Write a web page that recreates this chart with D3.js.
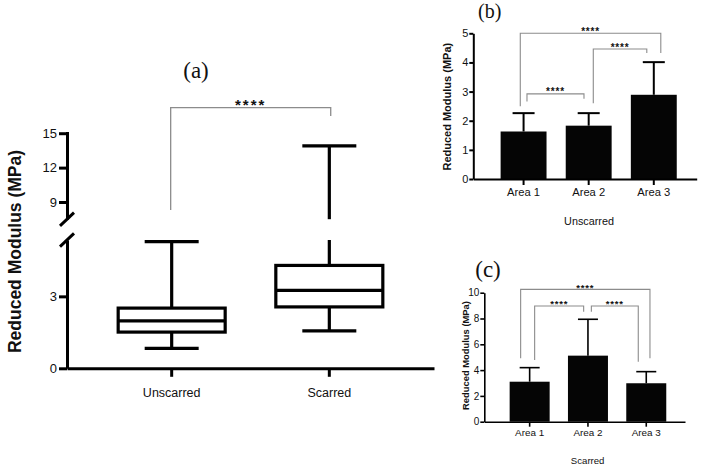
<!DOCTYPE html>
<html>
<head>
<meta charset="utf-8">
<script src="https://cdn.jsdelivr.net/npm/d3@7/dist/d3.min.js"></script>
<style>
  html, body { margin: 0; padding: 0; background: #fff; }
  svg { display: block; }
  text { font-family: "Liberation Sans", Arial, sans-serif; fill: #111; }
  .serif { font-family: "Liberation Serif", "Times New Roman", serif; }
</style>
</head>
<body>
<svg id="chart" width="711" height="472"></svg>
<script>
// ---------------- DATA ----------------
// Panel (a): box plot
const categoriesA = ["Unscarred", "Scarred"];
const minA = [0.83, 1.56];
const q1A = [1.51, 2.56];
const medA = [1.98, 3.25];
const q3A = [2.51, 4.29];
const maxA = [5.28, 13.9];
const lowTicksA = [0, 3];
const highTicksA = [9, 12, 15];

// Panel (b): Unscarred areas
const areas = ["Area 1", "Area 2", "Area 3"];
const meanB = [1.63, 1.83, 2.89];
const sdB = [0.63, 0.43, 1.12];
const ticksB = [0, 1, 2, 3, 4, 5];

// Panel (c): Scarred areas
const meanC = [3.10, 5.12, 2.98];
const sdC = [1.09, 2.82, 0.90];
const ticksC = [0, 2, 4, 6, 8, 10];

// significance comparisons [from, to, label]
const compA = [[0, 1, "****"]];
const compB = [[0, 1, "****"], [1, 2, "****"], [0, 2, "****"]];
const compC = [[0, 1, "****"], [1, 2, "****"], [0, 2, "****"]];

// ---------------- LAYOUT (annotation geometry in data units) -------------
// bracket: [lineValue, leftLegEnd, rightLegEnd, leftDx, rightDx]
const bracketA = [[17.24, 8.3, 16.5, -1, 1.4]];
const bracketB = [[2.92, 2.66, 2.75, 3.4, -4.7], [4.46, 2.60, 4.32, 4.6, -7], [5.0, 2.5, 4.32, -3.3, 7]];
const bracketC = [[8.97, 4.78, 8.53, 5, -4.3], [8.97, 8.53, 4.65, 3.4, -8], [10.26, 4.91, 4.91, -9, 3.7]];

const svg = d3.select("#chart");
const gray = "#8c8c8c";
const fmt = d3.format("d");

// ================= PANEL (a) =================
{
  const g = svg.append("g");
  const x = d3.scaleBand().domain(categoriesA).range([67, 434]).paddingInner(0).paddingOuter(0.164);
  const yLow = d3.scaleLinear().domain([0, 5.35]).range([368.3, 240]);
  const yHigh = d3.scaleLinear().domain([7.5, 15.15]).range([219.2, 131.5]);
  const cx = d => x(d) + x.bandwidth() / 2;

  // y axes (two segments)
  const axLow = g.append("g").attr("transform", "translate(67,0)")
    .call(d3.axisLeft(yLow).tickValues(lowTicksA).tickFormat(fmt).tickSize(8).tickSizeOuter(0).tickPadding(2));
  const axHigh = g.append("g").attr("transform", "translate(67,0)")
    .call(d3.axisLeft(yHigh).tickValues(highTicksA).tickFormat(fmt).tickSize(8).tickSizeOuter(0).tickPadding(2));
  [axLow, axHigh].forEach(a => {
    a.select(".domain").attr("stroke", "#000").attr("stroke-width", 3);
    a.selectAll(".tick line").attr("stroke", "#000").attr("stroke-width", 3);
    a.selectAll(".tick text").attr("font-size", 13).attr("fill", "#111")
      .attr("font-family", "Liberation Sans, Arial, sans-serif");
  });
  // break marks
  [yHigh.range()[0], yLow.range()[1]].forEach(yb => {
    g.append("line").attr("x1", 60).attr("y1", yb + 6.6).attr("x2", 74).attr("y2", yb - 6.6)
      .attr("stroke", "#000").attr("stroke-width", 3);
  });

  // x axis
  const axX = g.append("g").attr("transform", `translate(0,${yLow(0)})`)
    .call(d3.axisBottom(x).tickSize(8.5).tickSizeOuter(0).tickPadding(11.5));
  axX.select(".domain").attr("stroke", "#000").attr("stroke-width", 3);
  axX.selectAll(".tick line").attr("stroke", "#000").attr("stroke-width", 3);
  axX.selectAll(".tick text").attr("font-size", 12.5).attr("fill", "#111")
    .attr("font-family", "Liberation Sans, Arial, sans-serif");

  const bw = 107, cw = 54, lw = 3.2;
  categoriesA.forEach((c, i) => {
    const xc = cx(c);
    const top = Math.min(maxA[i], yLow.domain()[1]);
    // lower whisker
    g.append("line").attr("x1", xc).attr("x2", xc).attr("y1", yLow(minA[i])).attr("y2", yLow(q1A[i]))
      .attr("stroke", "#000").attr("stroke-width", lw);
    g.append("line").attr("x1", xc - cw / 2).attr("x2", xc + cw / 2).attr("y1", yLow(minA[i])).attr("y2", yLow(minA[i]))
      .attr("stroke", "#000").attr("stroke-width", lw);
    // upper whisker (lower segment)
    g.append("line").attr("x1", xc).attr("x2", xc).attr("y1", yLow(q3A[i])).attr("y2", yLow(top))
      .attr("stroke", "#000").attr("stroke-width", lw);
    if (maxA[i] <= yLow.domain()[1]) {
      g.append("line").attr("x1", xc - cw / 2).attr("x2", xc + cw / 2).attr("y1", yLow(maxA[i])).attr("y2", yLow(maxA[i]))
        .attr("stroke", "#000").attr("stroke-width", lw);
    }
    if (maxA[i] > yHigh.domain()[0]) {
      g.append("line").attr("x1", xc).attr("x2", xc).attr("y1", yHigh(yHigh.domain()[0])).attr("y2", yHigh(maxA[i]))
        .attr("stroke", "#000").attr("stroke-width", lw);
      g.append("line").attr("x1", xc - cw / 2).attr("x2", xc + cw / 2).attr("y1", yHigh(maxA[i])).attr("y2", yHigh(maxA[i]))
        .attr("stroke", "#000").attr("stroke-width", lw);
    }
    // box
    g.append("rect").attr("x", xc - bw / 2).attr("y", yLow(q3A[i])).attr("width", bw)
      .attr("height", yLow(q1A[i]) - yLow(q3A[i])).attr("fill", "#fff").attr("stroke", "#000").attr("stroke-width", lw);
    g.append("line").attr("x1", xc - bw / 2).attr("x2", xc + bw / 2).attr("y1", yLow(medA[i])).attr("y2", yLow(medA[i]))
      .attr("stroke", "#000").attr("stroke-width", lw);
  });

  // significance bracket
  compA.forEach((cp, k) => {
    const [a, b, lab] = cp;
    const [lv, l1, l2, dxl, dxr] = bracketA[k];
    const xa = cx(categoriesA[a]) + dxl, xb = cx(categoriesA[b]) + dxr;
    g.append("path").attr("d", `M${xa},${yHigh(l1)}V${yHigh(lv)}H${xb}V${yHigh(l2)}`)
      .attr("fill", "none").attr("stroke", gray).attr("stroke-width", 1.3);
    g.append("text").attr("x", (xa + xb) / 2).attr("y", yHigh(lv) + 2.5).attr("text-anchor", "middle")
      .attr("font-size", 15).attr("font-weight", "bold").attr("letter-spacing", 2).text(lab);
  });

  g.append("text").attr("transform", "translate(14.5,251.5) rotate(-90)")
    .attr("text-anchor", "middle").attr("dominant-baseline", "central")
    .attr("font-size", 17.5).attr("font-weight", "bold").text("Reduced Modulus (MPa)");
  g.append("text").attr("class", "serif").attr("x", 196).attr("y", 78).attr("text-anchor", "middle")
    .attr("font-size", 23).text("(a)");
}

// ================= BAR PANELS =================
function barPanel(opt) {
  const g = svg.append("g");
  const x = d3.scaleBand().domain(areas).range([opt.x0, opt.x1])
    .paddingInner(opt.pi).paddingOuter(opt.po).align(opt.align);
  const y = d3.scaleLinear().domain(opt.ydom).range([opt.y0, opt.ytop]);
  const cx = d => x(d) + x.bandwidth() / 2;

  // error bars
  areas.forEach((a, i) => {
    const xc = cx(a);
    const yt = y(opt.mean[i] + opt.sd[i]);
    g.append("line").attr("x1", xc).attr("x2", xc).attr("y1", y(opt.mean[i])).attr("y2", yt)
      .attr("stroke", "#000").attr("stroke-width", opt.lw);
    g.append("line").attr("x1", xc - opt.cw / 2).attr("x2", xc + opt.cw / 2).attr("y1", yt).attr("y2", yt)
      .attr("stroke", "#000").attr("stroke-width", opt.lw);
  });
  // bars
  g.selectAll("rect.bar").data(areas).join("rect").attr("class", "bar")
    .attr("x", d => x(d)).attr("width", x.bandwidth())
    .attr("y", (d, i) => y(opt.mean[i])).attr("height", (d, i) => y(0) - y(opt.mean[i]))
    .attr("fill", "#050505");

  const ay = g.append("g").attr("transform", `translate(${opt.x0},0)`)
    .call(d3.axisLeft(y).tickValues(opt.ticks).tickFormat(fmt).tickSize(4).tickSizeOuter(0).tickPadding(1));
  const ax = g.append("g").attr("transform", `translate(0,${opt.y0})`)
    .call(d3.axisBottom(x).tickSize(opt.xtick).tickSizeOuter(0).tickPadding(opt.xpad));
  [ay, ax].forEach(a => {
    a.select(".domain").attr("stroke", "#000").attr("stroke-width", opt.lw);
    a.selectAll(".tick line").attr("stroke", "#000").attr("stroke-width", opt.lw);
    a.selectAll(".tick text").attr("fill", "#111").attr("font-family", "Liberation Sans, Arial, sans-serif");
  });
  ay.selectAll(".tick text").attr("font-size", opt.yfs);
  ax.selectAll(".tick text").attr("font-size", opt.xfs);

  // brackets
  opt.comps.forEach((cp, k) => {
    const [a, b, lab] = cp;
    const [lv, l1, l2, dxl, dxr] = opt.brackets[k];
    const xa = cx(areas[a]) + dxl, xb = cx(areas[b]) + dxr;
    g.append("path").attr("d", `M${xa},${y(l1)}V${y(lv)}H${xb}V${y(l2)}`)
      .attr("fill", "none").attr("stroke", gray).attr("stroke-width", 1.1);
    g.append("text").attr("x", (xa + xb) / 2).attr("y", y(lv) + 1.5).attr("text-anchor", "middle")
      .attr("font-size", opt.sfs).attr("font-weight", "bold").attr("letter-spacing", 0.8).text(lab);
  });

  g.append("text").attr("transform", `translate(${opt.ylx},${opt.yly}) rotate(-90)`)
    .attr("text-anchor", "middle").attr("dominant-baseline", "central")
    .attr("font-size", opt.ylfs).attr("font-weight", "bold").text("Reduced Modulus (MPa)");
  g.append("text").attr("x", (opt.x0 + opt.x1) / 2 + opt.xtdx).attr("y", opt.xty).attr("text-anchor", "middle")
    .attr("font-size", opt.xtfs).text(opt.xtitle);
  g.append("text").attr("class", "serif").attr("x", opt.tx).attr("y", opt.ty).attr("text-anchor", "middle")
    .attr("font-size", opt.tfs).text(opt.title);
}

barPanel({
  x0: 473.3, x1: 696.7, pi: 0.295, po: 0.363, align: 0.578,
  ydom: [0, 5], y0: 179, ytop: 33.3, ticks: ticksB,
  mean: meanB, sd: sdB, lw: 2, cw: 22,
  xtick: 6, xpad: 3.3, yfs: 11, xfs: 11.2,
  comps: compB, brackets: bracketB, sfs: 10,
  ylx: 446.7, yly: 106.7, ylfs: 11,
  xtitle: "Unscarred", xtdx: 4, xty: 224.5, xtfs: 10.8,
  title: "(b)", tx: 489.7, ty: 18, tfs: 20
});

barPanel({
  x0: 484.3, x1: 685, pi: 0.314, po: 0.378, align: 0.575,
  ydom: [0, 10], y0: 421.7, ytop: 292.7, ticks: ticksC,
  mean: meanC, sd: sdC, lw: 1.6, cw: 20,
  xtick: 5, xpad: 2.6, yfs: 10, xfs: 9.9,
  comps: compC, brackets: bracketC, sfs: 9.5,
  ylx: 465, yly: 355.5, ylfs: 9.4,
  xtitle: "Scarred", xtdx: 3, xty: 463.5, xtfs: 9.6,
  title: "(c)", tx: 488, ty: 276.5, tfs: 23
});
</script>
</body>
</html>
